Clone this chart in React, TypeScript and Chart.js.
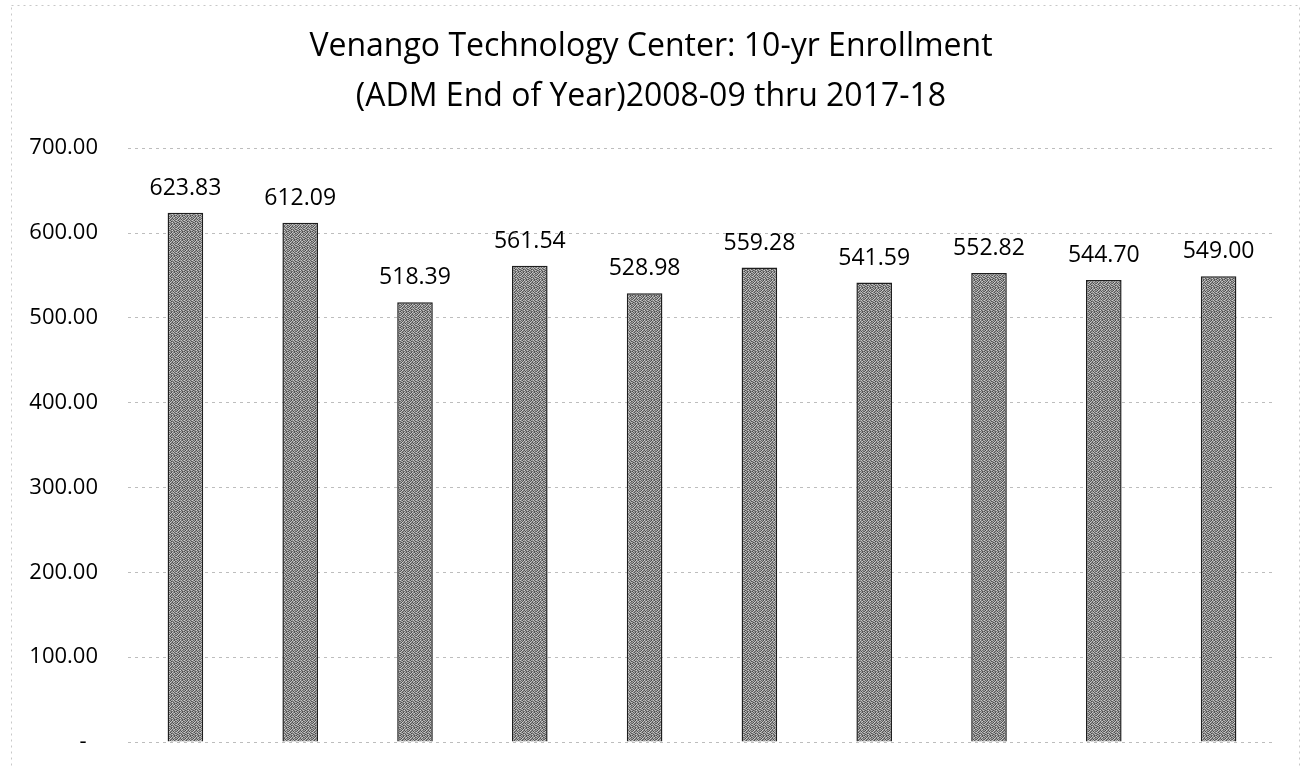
import React, { useEffect, useRef } from "react";
import { Chart, registerables } from "chart.js";

Chart.register(...registerables);

const categories = ["2008-09", "2009-10", "2010-11", "2011-12", "2012-13", "2013-14", "2014-15", "2015-16", "2016-17", "2017-18"];
const enrollment = [623.83, 612.09, 518.39, 561.54, 528.98, 559.28, 541.59, 552.82, 544.7, 549.0];
const yMin = 0;
const yMax = 700;
const yStep = 100;
const titleLines = ["Venango Technology Center: 10-yr Enrollment", "(ADM End of Year)2008-09 thru 2017-18"];

const FONT = "'Open Sans', 'DejaVu Sans', sans-serif";

const TEXTURE = [
  [200, 110, 170, 90, 215, 140, 105, 185],
  [135, 190, 100, 205, 125, 175, 220, 95],
  [175, 85, 225, 150, 100, 195, 130, 160],
  [105, 210, 140, 115, 185, 90, 200, 125],
  [220, 150, 95, 195, 160, 210, 110, 170],
  [120, 180, 205, 85, 130, 145, 190, 100],
  [165, 95, 130, 175, 220, 105, 155, 210],
  [90, 200, 160, 110, 140, 185, 95, 145],
];

function makeBarPattern(): CanvasPattern | string {
  const n = TEXTURE.length;
  const c = document.createElement("canvas");
  c.width = n;
  c.height = n;
  const g = c.getContext("2d");
  if (!g) return "#999";
  for (let y = 0; y < n; y++) {
    for (let x = 0; x < n; x++) {
      const v = TEXTURE[y][x] - 15;
      g.fillStyle = `rgb(${v},${v},${v})`;
      g.fillRect(x, y, 1, 1);
    }
  }
  const ctx = document.createElement("canvas").getContext("2d");
  return (ctx && ctx.createPattern(c, "repeat")) || "#999";
}

const valueLabels = {
  id: "valueLabels",
  afterDatasetsDraw(chart: any) {
    const ctx = chart.ctx;
    const meta = chart.getDatasetMeta(0);
    ctx.save();
    ctx.font = `23px ${FONT}`;
    ctx.fillStyle = "#000";
    ctx.textAlign = "center";
    ctx.textBaseline = "alphabetic";
    meta.data.forEach((bar: any, i: number) => {
      const v = chart.data.datasets[0].data[i] as number;
      ctx.fillText(v.toFixed(2), bar.x, bar.y - 18);
    });
    ctx.restore();
  },
};

const frameBorder = {
  id: "frameBorder",
  beforeDraw(chart: any) {
    const ctx = chart.ctx;
    ctx.save();
    ctx.strokeStyle = "#c8c8c8";
    ctx.lineWidth = 1;
    ctx.setLineDash([2, 4]);
    ctx.strokeRect(11.5, 5.5, chart.width - 14, chart.height);
    ctx.restore();
  },
};

export default function App() {
  const ref = useRef<HTMLCanvasElement | null>(null);

  useEffect(() => {
    if (!ref.current) return;
    const pattern = makeBarPattern();
    const chart = new Chart(ref.current, {
      type: "bar",
      data: {
        labels: categories,
        datasets: [
          {
            data: enrollment,
            backgroundColor: pattern as any,
            borderColor: "#1e1e1e",
            borderWidth: 1.5,
            barPercentage: 0.31,
            categoryPercentage: 1,
          },
        ],
      },
      options: {
        animation: false,
        responsive: true,
        maintainAspectRatio: false,
        layout: { padding: { left: 26, right: 26, top: 0, bottom: 27 } },
        plugins: {
          legend: { display: false },
          tooltip: { enabled: false },
          title: {
            display: true,
            text: titleLines,
            color: "#000",
            font: { family: FONT, size: 32, weight: "normal", lineHeight: 1.55 },
            padding: { top: 22, bottom: 27 },
          },
        },
        scales: {
          x: {
            display: false,
          },
          y: {
            min: yMin,
            max: yMax,
            ticks: {
              stepSize: yStep,
              padding: 30,
              color: "#000",
              font: { family: FONT, size: 22 },
              callback: (v: any) => (Number(v) === 0 ? "-  " : Number(v).toFixed(2)),
            },
            grid: { color: "#bdbdbd", lineWidth: 1, drawTicks: false },
            border: { display: false, dash: [3, 4] },
            afterFit: (s: any) => {
              s.width = 102;
              s.paddingTop = 0;
              s.paddingBottom = 0;
            },
          },
        },
      },
      plugins: [valueLabels, frameBorder],
    });
    return () => chart.destroy();
  }, []);

  return (
    <div style={{ position: "absolute", left: 0, top: 0, width: 1302, height: 769, background: "#fff" }}>
      <canvas ref={ref} />
    </div>
  );
}
